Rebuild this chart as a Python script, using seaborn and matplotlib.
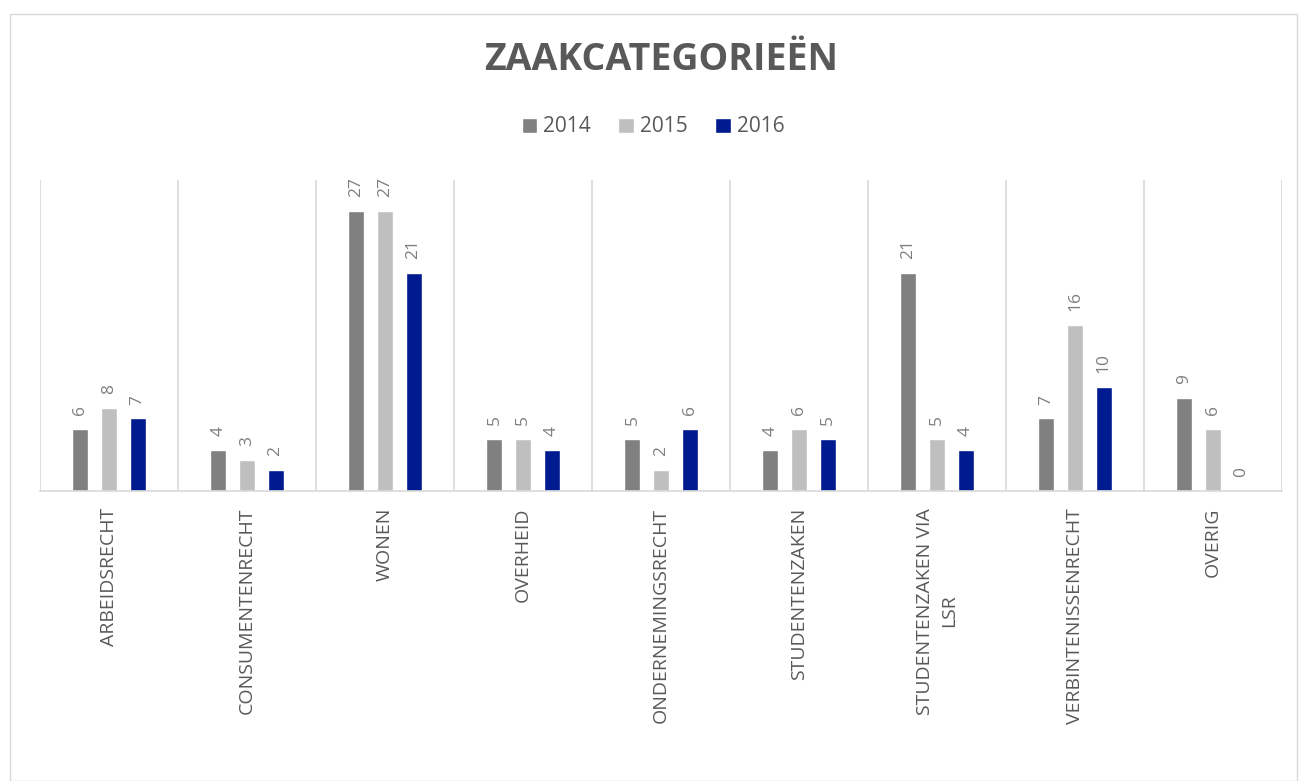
import matplotlib
matplotlib.use("Agg")
import matplotlib.pyplot as plt
import seaborn as sns
import pandas as pd
from matplotlib.patches import Rectangle

categories = ["ARBEIDSRECHT", "CONSUMENTENRECHT", "WONEN", "OVERHEID",
              "ONDERNEMINGSRECHT", "STUDENTENZAKEN", "STUDENTENZAKEN VIA\nLSR",
              "VERBINTENISSENRECHT", "OVERIG"]
years = ["2014", "2015", "2016"]
v2014 = [6, 4, 27, 5, 5, 4, 21, 7, 9]
v2015 = [8, 3, 27, 5, 2, 6, 5, 16, 6]
v2016 = [7, 2, 21, 4, 6, 5, 4, 10, 0]
colors = ["#808080", "#BFBFBF", "#001A8F"]
title = "ZAAKCATEGORIEËN"

rows = []
for y, vals in zip(years, [v2014, v2015, v2016]):
    for c, v in zip(categories, vals):
        rows.append({"cat": c, "year": y, "val": v})
df = pd.DataFrame(rows)

sns.set_theme(style="white")
plt.rcParams["font.family"] = ["Open Sans", "DejaVu Sans"]

fig = plt.figure(figsize=(13.03, 7.81), dpi=100)
ax = fig.add_axes([40/1303, 290/781, 1242/1303, 311/781])

sns.barplot(data=df, x="cat", y="val", hue="year", palette=colors,
            width=0.62, gap=0.44, ax=ax, saturation=1, legend=True)

ax.set_xlim(-0.5, len(categories) - 0.5)
ax.set_ylim(0, 30)
ax.set_xlabel("")
ax.set_ylabel("")
ax.set_yticks([])
ax.set_xticks(range(len(categories)))
ax.set_xticklabels(categories, rotation=90, fontsize=14, color="#595959",
                   linespacing=1.4)
ax.tick_params(axis="x", length=0, pad=12)
for s in ["top", "left", "right"]:
    ax.spines[s].set_visible(False)
ax.spines["bottom"].set_color("#D9D9D9")
ax.spines["bottom"].set_linewidth(1.2)
for b in [i - 0.5 for i in range(len(categories) + 1)]:
    ax.axvline(b, color="#D9D9D9", lw=1.2, zorder=0)

for cont in ax.containers:
    ax.bar_label(cont, rotation=90, padding=10, fontsize=12.5, color="#7F7F7F")

leg = ax.get_legend()
handles, labels = ax.get_legend_handles_labels()
leg.remove()
fig.legend(handles, labels, loc="center", bbox_to_anchor=(653/1303, 1 - 127/781),
           ncol=3, frameon=False, fontsize=15, handlelength=0.75, handleheight=0.75,
           handletextpad=0.3, columnspacing=1.3, labelcolor="#595959")

fig.text(661/1303, 1 - 60/781, title, ha="center", va="center", fontsize=27,
         fontweight="bold", color="#595959")

fig.patches.append(Rectangle((10/1303, 0), 1287/1303, 1 - 14/781,
                             transform=fig.transFigure, fill=False,
                             edgecolor="#D9D9D9", lw=1))

fig.savefig("out.png", dpi=100)
